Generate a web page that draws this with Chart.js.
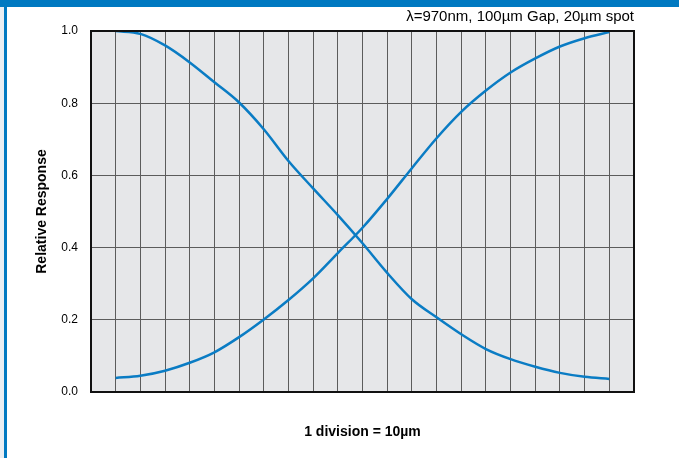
<!DOCTYPE html>
<html>
<head>
<meta charset="utf-8">
<script src="https://cdn.jsdelivr.net/npm/chart.js@4.4.1/dist/chart.umd.min.js"></script>
<style>
  body { margin: 0; background: #fff; }
  #wrap { position: relative; width: 679px; height: 458px; }
  #topbar { position: absolute; left: 0; top: 0; width: 679px; height: 7px; background: #0079c1; }
  #edge { position: absolute; left: 0; top: 7px; width: 4px; height: 451px; background: #e9eef3; }
  #leftbar { position: absolute; left: 4px; top: 7px; width: 3px; height: 451px; background: #0079c1; }
</style>
</head>
<body>
<div id="wrap">
  <canvas id="grafico" width="679" height="458"></canvas>
  <div id="topbar"></div>
  <div id="edge"></div>
  <div id="leftbar"></div>
</div>
<script>
// divisions (1 division = 10um)
var divisions = [1, 2, 3, 4, 5, 6, 7, 8, 9, 10, 11, 12, 13, 14, 15, 16, 17, 18, 19, 20, 21];
// element A, falling side
var responseA = [1.0, 0.992, 0.96, 0.913, 0.858, 0.802, 0.728, 0.64, 0.564, 0.49, 0.412, 0.33,
                 0.257, 0.207, 0.16, 0.119, 0.091, 0.07, 0.053, 0.042, 0.036];
// element B, rising side
var responseB = [0.039, 0.045, 0.059, 0.081, 0.11, 0.152, 0.201, 0.255, 0.315, 0.385, 0.455, 0.535,
                 0.62, 0.703, 0.776, 0.835, 0.885, 0.924, 0.957, 0.98, 0.997];
var yTicks = [0.0, 0.2, 0.4, 0.6, 0.8, 1.0];

function toPoints(vals) {
  return divisions.map(function(d, i) { return { x: d, y: vals[i] }; });
}

var plotArea = {
  id: 'plotArea',
  beforeDraw: function(chart) {
    var a = chart.chartArea, ctx = chart.ctx;
    ctx.save();
    ctx.fillStyle = '#e6e7e9';
    ctx.fillRect(a.left, a.top, a.right - a.left, a.bottom - a.top);
    ctx.restore();
  },
  afterDatasetsDraw: function(chart) {
    var a = chart.chartArea, ctx = chart.ctx;
    ctx.save();
    ctx.strokeStyle = '#111';
    ctx.lineWidth = 2;
    ctx.strokeRect(a.left, a.top, a.right - a.left, a.bottom - a.top);
    ctx.restore();
  }
};

var lineStyle = {
  borderColor: '#0a7cc4',
  borderWidth: 2.5,
  pointRadius: 0,
  cubicInterpolationMode: 'monotone',
  fill: false
};

var ctx = document.getElementById('grafico').getContext('2d');
var chart = new Chart(ctx, {
  type: 'line',
  data: {
    datasets: [
      Object.assign({ label: 'A', data: toPoints(responseA) }, lineStyle),
      Object.assign({ label: 'B', data: toPoints(responseB) }, lineStyle)
    ]
  },
  options: {
    responsive: false,
    animation: false,
    layout: { padding: { left: 0, top: 8, right: 45, bottom: 0 } },
    plugins: {
      legend: { display: false },
      tooltip: { enabled: false },
      title: {
        display: true,
        text: 'λ=970nm, 100µm Gap, 20µm spot',
        align: 'end',
        color: '#000',
        font: { family: 'Liberation Sans, Arial, sans-serif', size: 15, weight: 'normal' },
        padding: { top: 0, bottom: 5 }
      }
    },
    scales: {
      x: {
        type: 'linear',
        min: 0,
        max: 22,
        ticks: { stepSize: 1, display: false },
        grid: { color: '#5c5c5c', lineWidth: 1, drawTicks: false },
        border: { display: false },
        title: {
          display: true,
          text: '1 division = 10µm',
          color: '#000',
          font: { family: 'Liberation Sans, Arial, sans-serif', size: 14, weight: 'bold' },
          padding: { top: 0, bottom: 17 }
        },
        afterFit: function(scale) { scale.height = 66; }
      },
      y: {
        min: 0,
        max: 1,
        afterBuildTicks: function(scale) {
          scale.ticks = yTicks.map(function(v) { return { value: v }; });
        },
        ticks: {
          padding: 13,
          color: '#000',
          font: { family: 'Liberation Sans, Arial, sans-serif', size: 12 },
          callback: function(v) { return Number(v).toFixed(1); }
        },
        grid: { color: '#5c5c5c', lineWidth: 1, drawTicks: false },
        border: { display: false },
        title: {
          display: true,
          text: 'Relative Response',
          color: '#000',
          font: { family: 'Liberation Sans, Arial, sans-serif', size: 14, weight: 'bold' },
          padding: { top: 34, bottom: 0 }
        },
        afterFit: function(scale) { scale.width = 91; }
      }
    }
  },
  plugins: [plotArea]
});
</script>
</body>
</html>
